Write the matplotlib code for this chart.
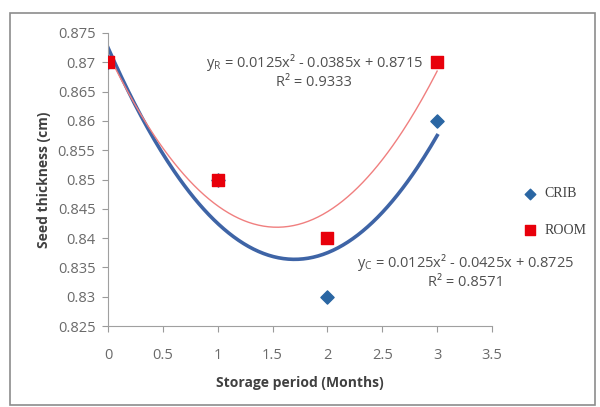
import numpy as np
import matplotlib.pyplot as plt
from matplotlib.patches import Rectangle

# storage period (months)
months = [0, 1, 2, 3]
# seed thickness (cm)
crib = [0.87, 0.85, 0.83, 0.86]
room = [0.87, 0.85, 0.84, 0.87]

x_ticks = [0, 0.5, 1, 1.5, 2, 2.5, 3, 3.5]
y_ticks = [0.825, 0.83, 0.835, 0.84, 0.845, 0.85, 0.855, 0.86, 0.865, 0.87, 0.875]

plt.rcParams['font.family'] = ['Open Sans', 'DejaVu Sans']

fig = plt.figure(figsize=(6, 4.07), dpi=100)
ax = fig.add_axes([108/600, 1-326/407, (492-108)/600, (326-33)/407])

# outer frame
fig.patches.append(Rectangle((10/600, 2/407), 585/600, 392/407, transform=fig.transFigure,
                             fill=False, edgecolor='#8c8c8c', linewidth=1.2))

# polynomial trendlines (order 2)
xs = np.linspace(0, 3, 200)
pc = np.polyfit(months, crib, 2)
pr = np.polyfit(months, room, 2)
ax.plot(xs, np.polyval(pc, xs), color='#3e64a6', linewidth=2.6, zorder=2)
ax.plot(xs, np.polyval(pr, xs), color='#f07f7f', linewidth=1.0, zorder=2)

ax.scatter(months, crib, marker='D', s=45, color='#2a66a3', label='CRIB', zorder=3)
ax.scatter(months, room, marker='s', s=85, color='#e8000b', label='ROOM', zorder=4)

ax.set_xlim(0, 3.5)
ax.set_ylim(0.825, 0.875)
ax.set_xticks(x_ticks)
ax.set_xticklabels(['0', '0.5', '1', '1.5', '2', '2.5', '3', '3.5'])
ax.set_yticks(y_ticks)
ax.set_yticklabels(['0.825', '0.83', '0.835', '0.84', '0.845', '0.85', '0.855',
                    '0.86', '0.865', '0.87', '0.875'])
ax.tick_params(axis='both', labelsize=10.5, colors='#9a9a9a', labelcolor='#6a6a6a', length=4)
ax.tick_params(axis='x', pad=12)
ax.tick_params(axis='y', pad=5)
for s in ['top', 'right']:
    ax.spines[s].set_visible(False)
for s in ['left', 'bottom']:
    ax.spines[s].set_color('#a0a0a0')

ax.set_xlabel('Storage period (Months)', fontsize=10, fontweight='bold', color='#404040', labelpad=9)
ax.set_ylabel('Seed thickness (cm)', fontsize=10, fontweight='bold', color='#404040', labelpad=5)

eq_kw = dict(fontsize=10.5, color='#505050', ha='center', va='center')
ax.text(1.88, 0.8700, 'y$_\\mathregular{R}$ = 0.0125x² - 0.0385x + 0.8715', **eq_kw)
ax.text(1.88, 0.8665, 'R² = 0.9333', **eq_kw)
ax.text(3.26, 0.8359, 'y$_\\mathregular{C}$ = 0.0125x² - 0.0425x + 0.8725', **eq_kw)
ax.text(3.26, 0.8324, 'R² = 0.8571', **eq_kw)

leg = fig.legend(loc='center left', bbox_to_anchor=(516/600, 1-212/407), frameon=False,
                 prop={'family': 'Liberation Serif', 'size': 10},
                 handletextpad=0.05, labelspacing=1.7, markerscale=0.8,
                 borderpad=0, borderaxespad=0)
for t in leg.get_texts():
    t.set_color('#404040')

fig.savefig('out.png', dpi=100)
